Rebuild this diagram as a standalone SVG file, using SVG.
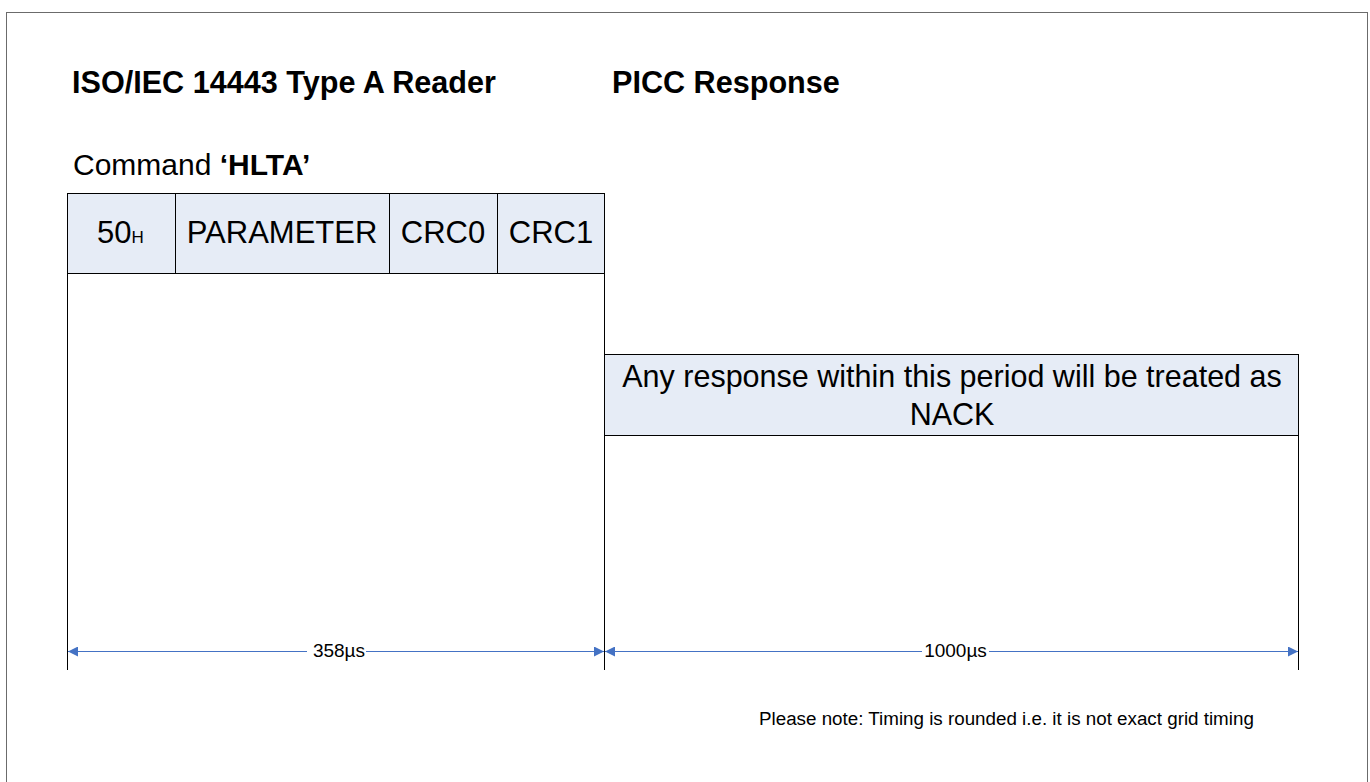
<svg xmlns="http://www.w3.org/2000/svg" width="1370" height="782" viewBox="0 0 1370 782">
<defs>
<style>
.t{font-family:"Liberation Sans",Arial,sans-serif;fill:#000}
.b{font-weight:bold;font-size:30.6px}
.c{font-size:30px}
.cc{font-size:31px}
.cell{fill:#E6ECF6;stroke:#000;stroke-width:1}
.v{stroke:#000;stroke-width:1;fill:none}
.dim{stroke:#4472C4;stroke-width:1.2;fill:none}
</style>
<marker id="ah" viewBox="0 0 10 10" refX="10" refY="5" markerWidth="10" markerHeight="10" markerUnits="userSpaceOnUse" orient="auto-start-reverse"><path d="M0,0 L10,5 L0,10 z" fill="#4472C4"/></marker>
</defs>
<rect x="6.5" y="12.5" width="1361" height="780" fill="#fff" stroke="#6b6b6b" stroke-width="1"/>
<g id="titles">
<text class="t b" x="72" y="93">ISO/IEC 14443 Type A Reader</text>
<text class="t b" x="612" y="93">PICC Response</text>
<text class="t c" x="73" y="175">Command <tspan font-weight="bold">‘HLTA’</tspan></text>
</g>
<g id="cmd">
<rect class="cell" x="67.5" y="193.5" width="108" height="80"/>
<text class="t cc" x="97" y="243">50<tspan font-size="17">H</tspan></text>
<rect class="cell" x="175.5" y="193.5" width="214" height="80"/>
<text class="t cc" x="282" y="243" text-anchor="middle">PARAMETER</text>
<rect class="cell" x="389.5" y="193.5" width="108" height="80"/>
<text class="t cc" x="443" y="243" text-anchor="middle">CRC0</text>
<rect class="cell" x="497.5" y="193.5" width="107" height="80"/>
<text class="t cc" x="551" y="243" text-anchor="middle">CRC1</text>
</g>
<g id="resp">
<rect class="cell" x="604.5" y="354.5" width="694" height="81"/>
<text class="t" font-size="30.5" x="952" y="387" text-anchor="middle">Any response within this period will be treated as</text>
<text class="t" font-size="30.5" x="952" y="425" text-anchor="middle">NACK</text>
</g>
<g id="connectors">
<path class="v" d="M67.5,273 V670 M604.5,273 V670 M1298.5,435 V670"/>
<line class="dim" x1="68" y1="651.5" x2="604" y2="651.5" marker-start="url(#ah)" marker-end="url(#ah)"/>
<line class="dim" x1="605" y1="651.5" x2="1298" y2="651.5" marker-start="url(#ah)" marker-end="url(#ah)"/>
<rect x="307" y="640" width="59" height="22" fill="#fff"/>
<text class="t" x="339" y="657" text-anchor="middle" font-size="19">358µs</text>
<rect x="922" y="640" width="67" height="22" fill="#fff"/>
<text class="t" x="955.5" y="657" text-anchor="middle" font-size="19">1000µs</text>
</g>
<text class="t" x="759" y="725" font-size="18.8">Please note: Timing is rounded i.e. it is not exact grid timing</text>
</svg>
